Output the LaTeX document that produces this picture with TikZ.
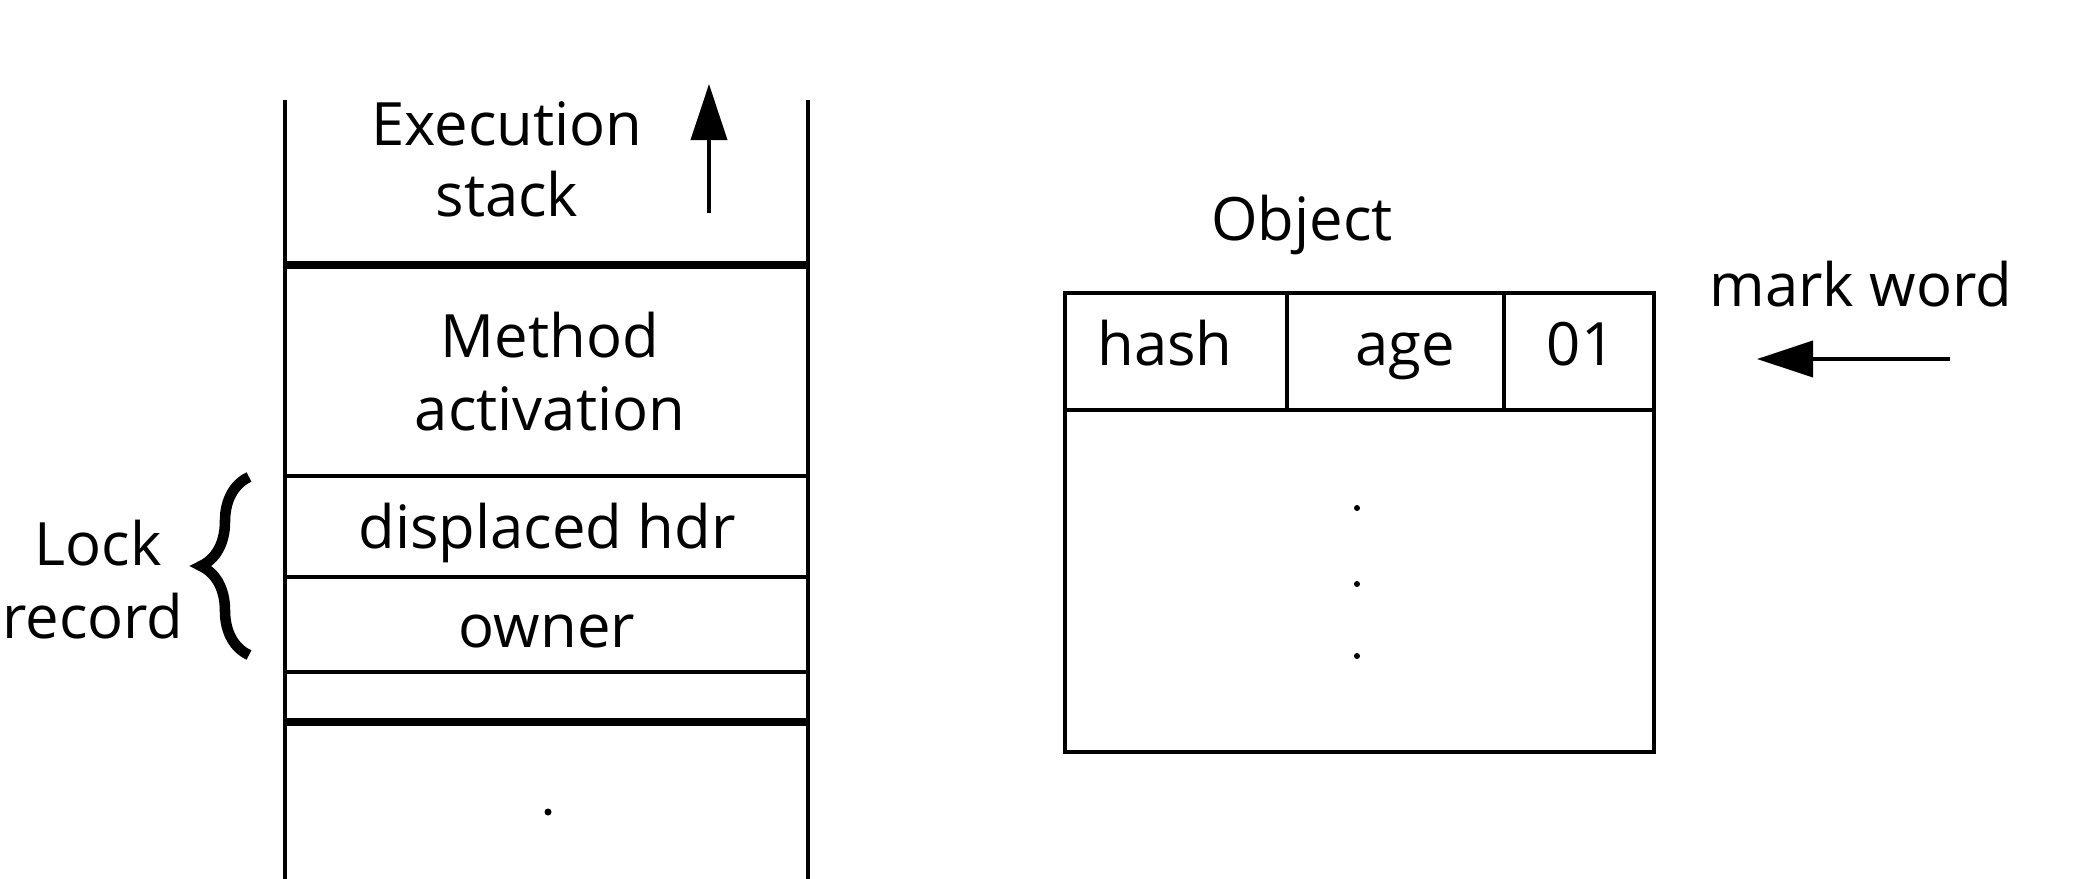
\documentclass[tikz,border=0pt]{standalone}
\usepackage{fontspec}
\setmainfont{Open Sans}
\usetikzlibrary{arrows.meta,decorations.pathreplacing}

\begin{document}
\begin{tikzpicture}[x=0.01cm, y=-0.01cm,
    every node/.style={font=\fontsize{17pt}{20pt}\selectfont, inner sep=0pt},
    thinline/.style={line width=1.1pt},
    thickline/.style={line width=2.3pt},
    bigarrow/.style={line width=1.1pt, -{Triangle[length=5.6mm, width=3.6mm]}}]
    \useasboundingbox (0,0) rectangle (2084,878);
    \begin{scope}
        % Stack walls
        \draw[thinline] (285,100) -- (285,890);
        \draw[thinline] (808,100) -- (808,890);
        % Frame separators
        \draw[thickline] (285,265) -- (808,265);
        \draw[thinline] (285,476) -- (808,476);
        \draw[thinline] (285,577) -- (808,577);
        \draw[thinline] (285,672) -- (808,672);
        \draw[thickline] (285,722) -- (808,722);
        % Labels in the stack
        \node[anchor=base] (exec) at (507,145) {Execution};
        \node[anchor=base] (execb) at (507,216) {stack};
        \node[anchor=base] (meth) at (550,357) {Method};
        \node[anchor=base] (methb) at (550,430) {activation};
        \node[anchor=base] (hdr) at (547,548) {displaced hdr};
        \node[anchor=base] (owner) at (547,647) {owner};
        % Growth arrow
        \coordinate (growtail) at (709,213);
        \coordinate (growtip) at (709,84);
        \draw[bigarrow] (growtail) -- (growtip);
        % Dots
        \fill (548,812) circle (0.35mm);
        \fill (548,884) circle (0.35mm);
        % Lock record brace
        \draw[line width=3pt, decorate, decoration={brace, amplitude=0.48cm}] (249,655) -- (249,477);
        \node[anchor=base] (lock) at (98,565) {Lock};
        \node[anchor=base] (record) at (93,638) {record};
    \end{scope}
    \begin{scope}
        % Object
        \node[anchor=base] (obj) at (1302,240) {Object};
        \draw[thinline] (1065,293) rectangle (1654,752);
        \draw[thinline] (1065,410) -- (1654,410);
        \draw[thinline] (1287,293) -- (1287,410);
        \draw[thinline] (1504,293) -- (1504,410);
        \node[anchor=base] (hash) at (1165,365) {hash};
        \node[anchor=base] (age) at (1405,365) {age};
        \node[anchor=base] (bits) at (1581,365) {01};
        \fill (1357,508) circle (0.3mm);
        \fill (1357,584) circle (0.3mm);
        \fill (1357,656) circle (0.3mm);
        % Mark word pointer
        \node[anchor=base] (mark) at (1861,306) {mark word};
        \coordinate (marktail) at (1950,359);
        \coordinate (marktip) at (1757,359);
        \draw[bigarrow] (marktail) -- (marktip);
    \end{scope}
\end{tikzpicture}
\end{document}
